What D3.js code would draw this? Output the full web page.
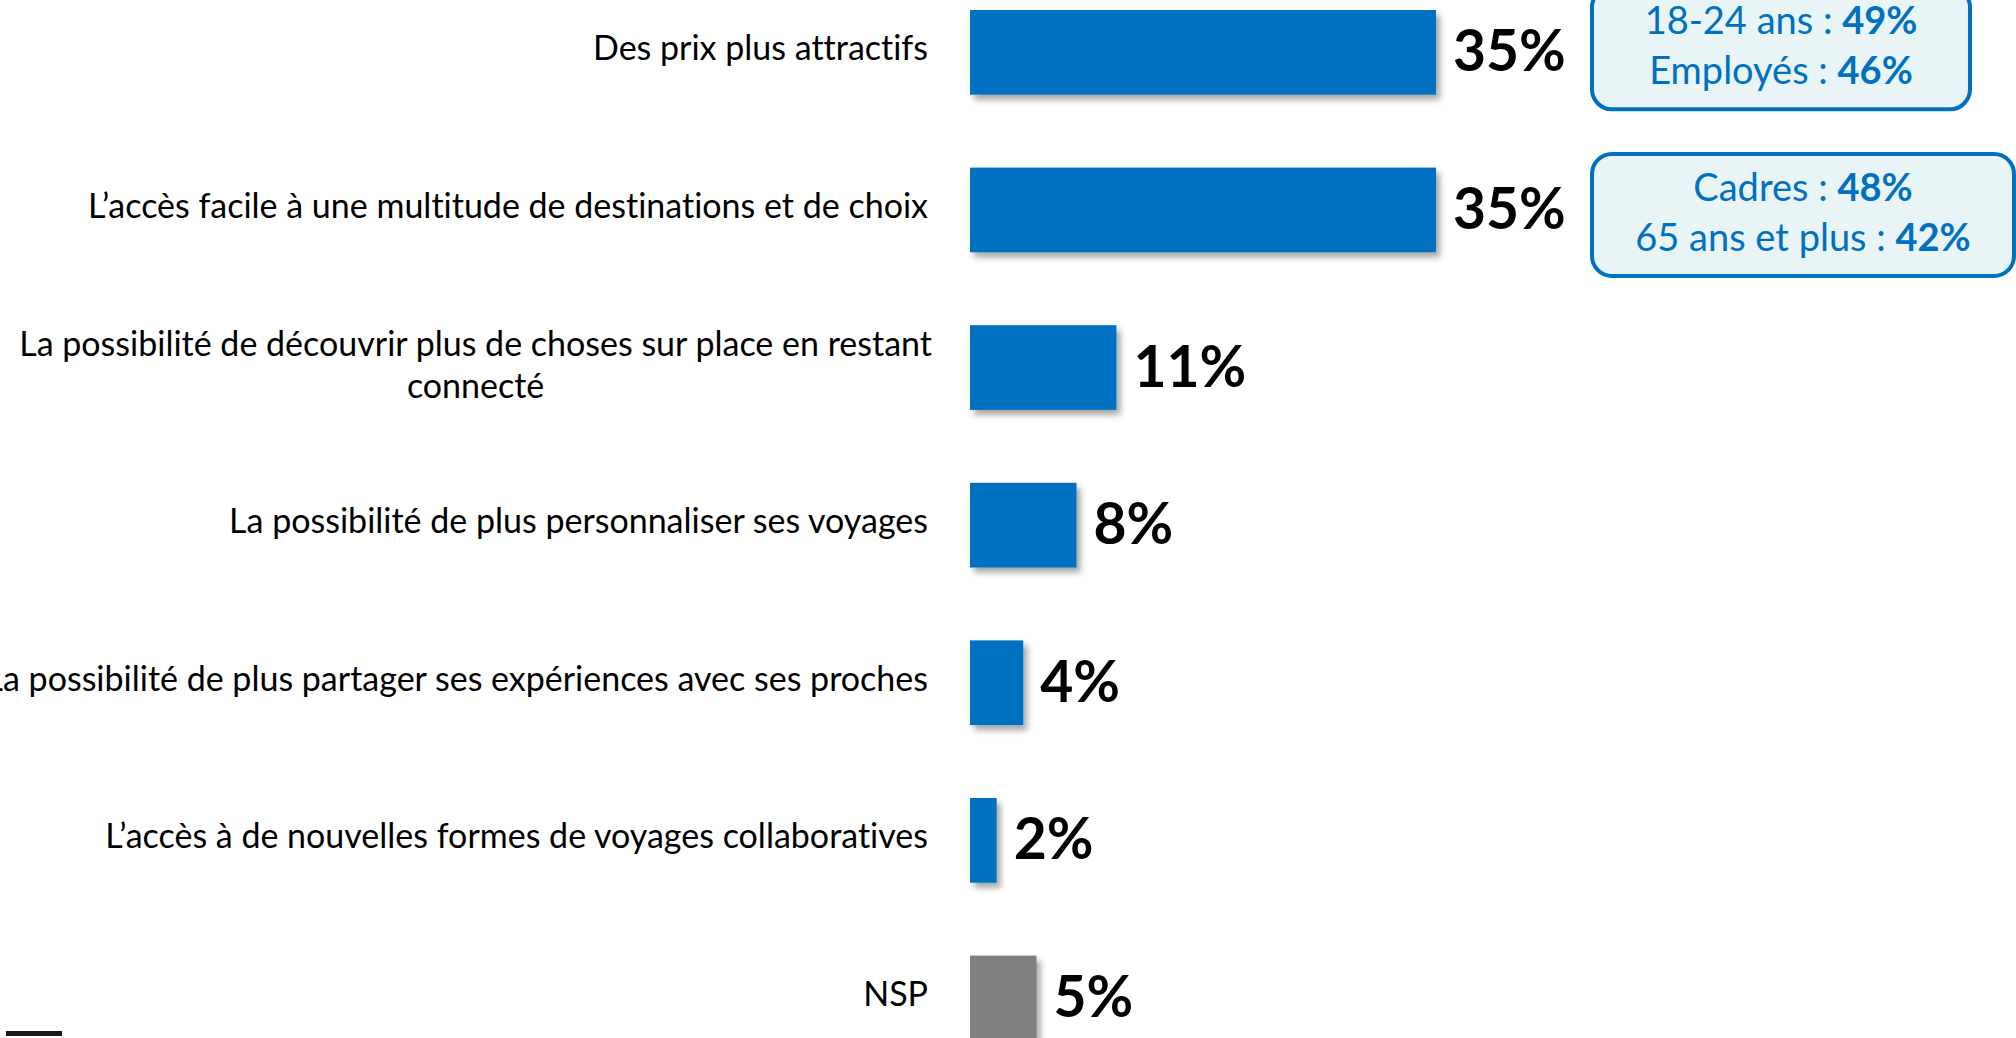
<!DOCTYPE html>
<meta charset="utf-8">
<style>
body { margin: 0; background: #fff; }
text { font-variant-ligatures: none; }
.cat { font-family: Lato, "Open Sans", sans-serif; font-size: 34px; fill: #000; }
.val { font-family: Lato, "Open Sans", sans-serif; font-size: 57px; font-weight: bold; fill: #000; }
.callout text { font-family: Lato, "Open Sans", sans-serif; font-size: 38px; fill: #0070C0; }
</style>
<body>
<div id="chart"></div>
</body>
<script src="https://d3js.org/d3.v7.min.js"></script>
<script>

// data
var categories = [
  "Des prix plus attractifs",
  "L\u2019accès facile à une multitude de destinations et de choix",
  "La possibilité de découvrir plus de choses sur place en restant|connecté",
  "La possibilité de plus personnaliser ses voyages",
  "La possibilité de plus partager ses expériences avec ses proches",
  "L\u2019accès à de nouvelles formes de voyages collaboratives",
  "NSP"
];
var values = [35, 35, 11, 8, 4, 2, 5];

// callouts next to the first two bars
var calloutBars = [0, 1];
var calloutLabels = [["18-24 ans", "Employés"], ["Cadres", "65 ans et plus"]];
var calloutValues = [[49, 46], [48, 42]];

var W = 2016, H = 1038;
var barLeft = 970,
    labelRight = 928;
var boxX = 1592,
    boxW = [378, 422],
    boxH = 122;

var svg = d3.select("#chart").append("svg")
    .attr("width", W)
    .attr("height", H);

var defs = svg.append("defs");
var f = defs.append("filter")
    .attr("id", "shadow")
    .attr("x", "-20%").attr("y", "-20%")
    .attr("width", "150%").attr("height", "150%");
f.append("feDropShadow")
    .attr("dx", 4).attr("dy", 5)
    .attr("stdDeviation", 3)
    .attr("flood-color", "#000")
    .attr("flood-opacity", 0.35);

// scales
var x = d3.scaleLinear().domain([0, 35]).range([0, 466]);
var y = d3.scaleBand()
    .domain(categories)
    .range([10, 1040.3])
    .paddingInner(0.4626)
    .paddingOuter(0);

var rows = svg.append("g").selectAll("g")
    .data(categories)
  .enter().append("g")
    .attr("transform", function(d) { return "translate(0," + y(d) + ")"; });

rows.append("rect")
    .attr("x", barLeft)
    .attr("width", function(d, i) { return x(values[i]); })
    .attr("height", y.bandwidth())
    .attr("fill", function(d) { return d == "NSP" ? "#808080" : "#0070C0"; })
    .attr("filter", "url(#shadow)");

rows.append("text")
    .attr("class", "val")
    .attr("x", function(d, i) { return barLeft + x(values[i]) + 17; })
    .attr("y", y.bandwidth() / 2 + 19)
    .text(function(d, i) { return values[i] + "%"; });

// category labels, right aligned; a "|" marks a line break
rows.each(function(d) {
  var g = d3.select(this),
      lines = d.split("|"),
      mid = y.bandwidth() / 2;
  if (lines.length == 1) {
    g.append("text")
        .attr("class", "cat")
        .attr("x", labelRight)
        .attr("y", mid + 8)
        .attr("text-anchor", "end")
        .text(lines[0]);
  } else {
    var t1 = g.append("text")
        .attr("class", "cat")
        .attr("x", labelRight + 4)
        .attr("y", mid - 12)
        .attr("text-anchor", "end")
        .text(lines[0]);
    var len = t1.node().getComputedTextLength();
    g.append("text")
        .attr("class", "cat")
        .attr("x", labelRight + 4 - len / 2)
        .attr("y", mid + 30)
        .attr("text-anchor", "middle")
        .text(lines[1]);
  }
});

// callout boxes
var callouts = svg.append("g").attr("class", "callout")
  .selectAll("g")
    .data(calloutBars)
  .enter().append("g")
    .attr("transform", function(d, i) {
      var cy = y(categories[d]) + y.bandwidth() / 2 + (i == 0 ? -4 : 5);
      return "translate(" + boxX + "," + (cy - boxH / 2) + ")";
    });

callouts.append("rect")
    .attr("width", function(d, i) { return boxW[i]; })
    .attr("height", boxH)
    .attr("rx", 20)
    .attr("fill", "#E9F4F6")
    .attr("stroke", "#0070C0")
    .attr("stroke-width", 4);

callouts.each(function(d, i) {
  var g = d3.select(this);
  calloutLabels[i].forEach(function(lab, j) {
    var t = g.append("text")
        .attr("x", boxW[i] / 2)
        .attr("y", 47 + j * 50)
        .attr("text-anchor", "middle");
    t.append("tspan").text(lab + " : ");
    t.append("tspan").attr("font-weight", "bold").text(calloutValues[i][j] + "%");
  });
});

// small dark rule bottom left
svg.append("rect")
    .attr("x", 6).attr("y", 1031)
    .attr("width", 56).attr("height", 5)
    .attr("fill", "#1a1a1a");

</script>
